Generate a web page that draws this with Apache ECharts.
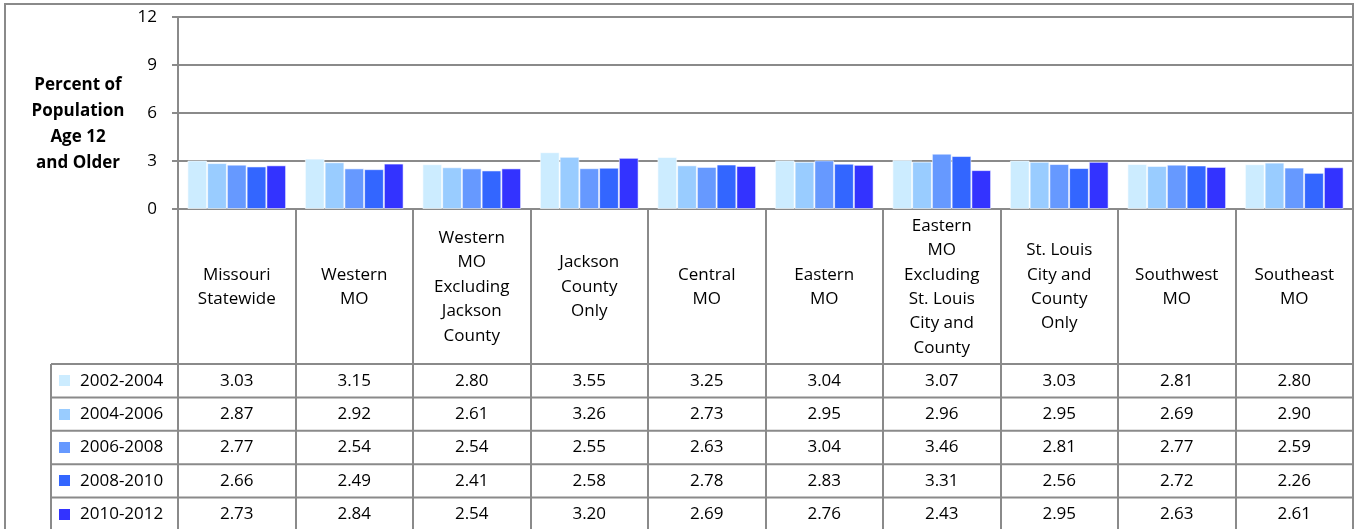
<!DOCTYPE html>
<html>
<head>
<meta charset="utf-8">
<script src="https://cdn.jsdelivr.net/npm/echarts@6/dist/echarts.min.js"></script>
<style>
  html, body { margin: 0; padding: 0; background: #ffffff; }
  #chart { width: 1356px; height: 529px; }
</style>
</head>
<body>
<div id="chart"></div>
<script>
// Regions (line breaks follow the wrapped column headers)
const regions = [
  'Missouri\nStatewide',
  'Western\nMO',
  'Western\nMO\nExcluding\nJackson\nCounty',
  'Jackson\nCounty\nOnly',
  'Central\nMO',
  'Eastern\nMO',
  'Eastern\nMO\nExcluding\nSt. Louis\nCity and\nCounty',
  'St. Louis\nCity and\nCounty\nOnly',
  'Southwest\nMO',
  'Southeast\nMO'
];

const periods = ['2002-2004', '2004-2006', '2006-2008', '2008-2010', '2010-2012'];

// Percent of population age 12 and older, per period
const p2002_2004 = [3.03, 3.15, 2.80, 3.55, 3.25, 3.04, 3.07, 3.03, 2.81, 2.80];
const p2004_2006 = [2.87, 2.92, 2.61, 3.26, 2.73, 2.95, 2.96, 2.95, 2.69, 2.90];
const p2006_2008 = [2.77, 2.54, 2.54, 2.55, 2.63, 3.04, 3.46, 2.81, 2.77, 2.59];
const p2008_2010 = [2.66, 2.49, 2.41, 2.58, 2.78, 2.83, 3.31, 2.56, 2.72, 2.26];
const p2010_2012 = [2.73, 2.84, 2.54, 3.20, 2.69, 2.76, 2.43, 2.95, 2.63, 2.61];

const yMin = 0, yMax = 12, yStep = 3;
const yAxisTitle = 'Percent of\nPopulation\nAge 12\nand Older';

const seriesValues = [p2002_2004, p2004_2006, p2006_2008, p2008_2010, p2010_2012];
const colors = ['#CCECFF', '#99CCFF', '#6699FF', '#3366FF', '#3333FF'];

const FONT = '"Open Sans", "Noto Sans", sans-serif';
const LINE = '#8a8a8a';

// layout of the data table under the plot
const plotLeft = 178, plotRight = 1353, plotTop = 17, plotBottom = 209;
const tableTop = 364, rowH = 33.4, legendColLeft = 51;

const chart = echarts.init(document.getElementById('chart'), null, { renderer: 'canvas' });

chart.setOption({
  animation: false,
  backgroundColor: '#ffffff',
  textStyle: { fontFamily: FONT },
  grid: {
    left: plotLeft,
    right: 1356 - plotRight,
    top: plotTop,
    bottom: 529 - plotBottom
  },
  xAxis: {
    type: 'category',
    data: regions,
    boundaryGap: true,
    axisLine: { show: true, lineStyle: { color: LINE, width: 2 } },
    axisTick: {
      show: true,
      inside: false,
      length: 340,
      lineStyle: { color: LINE, width: 2 }
    },
    axisLabel: {
      interval: 0,
      margin: 78,
      verticalAlign: 'middle',
      align: 'center',
      fontFamily: FONT,
      fontSize: 17,
      lineHeight: 24.4,
      color: '#000'
    },
    splitLine: { show: false }
  },
  yAxis: {
    type: 'value',
    min: yMin,
    max: yMax,
    interval: yStep,
    axisLine: { show: true, lineStyle: { color: LINE, width: 2 } },
    axisTick: { show: true, length: 6, lineStyle: { color: LINE, width: 2 } },
    axisLabel: {
      margin: 21,
      fontFamily: FONT,
      fontSize: 17,
      color: '#000'
    },
    splitLine: { show: true, lineStyle: { color: LINE, width: 2 } }
  },
  series: periods.map((name, i) => ({
    name: name,
    type: 'bar',
    data: seriesValues[i],
    barGap: '0%',
    barCategoryGap: '16%',
    itemStyle: {
      color: colors[i],
      borderColor: 'rgba(255,255,255,0.55)',
      borderWidth: 1
    }
  }))
});

// data table with its legend column, outer frame and axis title
const graphics = [];

graphics.push({
  type: 'rect',
  silent: true,
  shape: { x: 5, y: 4, width: plotRight - 5, height: 600 },
  style: { fill: 'none', stroke: LINE, lineWidth: 2 }
});

graphics.push({
  type: 'line',
  silent: true,
  shape: { x1: legendColLeft, y1: tableTop, x2: legendColLeft, y2: 600 },
  style: { stroke: LINE, lineWidth: 2 }
});

for (let r = 0; r <= periods.length; r++) {
  const y = tableTop + r * rowH;
  graphics.push({
    type: 'line',
    silent: true,
    shape: { x1: legendColLeft, y1: y, x2: plotRight, y2: y },
    style: { stroke: LINE, lineWidth: 2 }
  });
}

seriesValues.forEach((vals, r) => {
  const cy = tableTop + r * rowH + rowH / 2;
  // legend key for this row
  graphics.push({
    type: 'rect',
    silent: true,
    shape: { x: 59, y: Math.round(cy - 5.5), width: 11, height: 11 },
    style: { fill: colors[r] }
  });
  graphics.push({
    type: 'text',
    silent: true,
    x: 80,
    y: cy,
    style: {
      text: periods[r],
      fontFamily: FONT,
      fontSize: 17,
      fill: '#000',
      align: 'left',
      verticalAlign: 'middle'
    }
  });
  vals.forEach((v, c) => {
    const cx = chart.convertToPixel({ xAxisIndex: 0 }, c);
    graphics.push({
      type: 'text',
      silent: true,
      x: cx,
      y: cy,
      style: {
        text: v.toFixed(2),
        fontFamily: FONT,
        fontSize: 17,
        fill: '#000',
        align: 'center',
        verticalAlign: 'middle'
      }
    });
  });
});

graphics.push({
  type: 'text',
  silent: true,
  x: 78,
  y: 124.5,
  style: {
    text: yAxisTitle,
    fontFamily: FONT,
    fontSize: 17,
    fontWeight: 'bold',
    lineHeight: 26,
    fill: '#000',
    align: 'center',
    verticalAlign: 'middle'
  }
});

chart.setOption({ graphic: graphics });
</script>
</body>
</html>
